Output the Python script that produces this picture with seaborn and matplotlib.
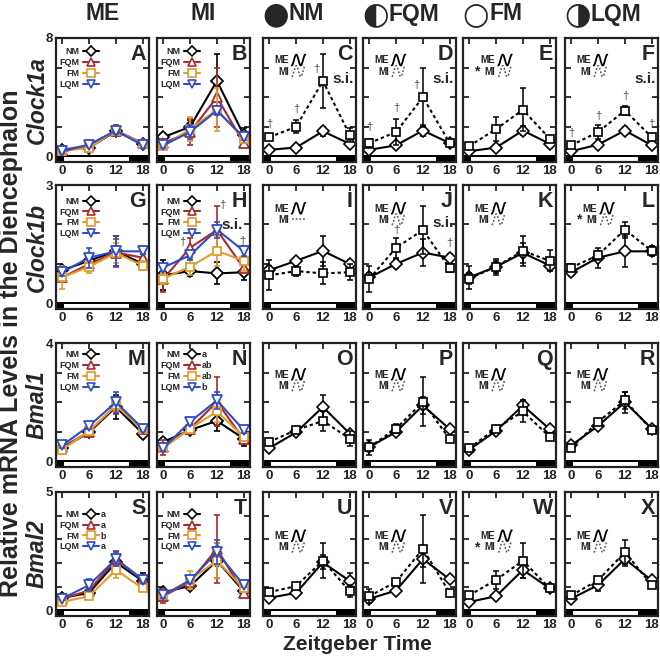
import numpy as np
import pandas as pd
import matplotlib
matplotlib.use('Agg')
import matplotlib.pyplot as plt
import seaborn as sns
from matplotlib.lines import Line2D
from matplotlib.legend_handler import HandlerLine2D

# sampling times (ZT, h) and light phase
zt = [0, 6, 12, 18]
light_phase = (0, 15)

groups = ['NM', 'FQM', 'FM', 'LQM']
tissues = ['ME', 'MI']
genes = ['Clock1a', 'Clock1b', 'Bmal1', 'Bmal2']
gene_ymax = [8, 3, 4, 5]
gene_ystep = [2, 1, 1, 1]
panel_letters = ['ABCDEF', 'GHIJKL', 'MNOPQR', 'STUVWX']

colors = {'NM': 'black', 'FQM': '#a82a2a', 'FM': '#e39b2b', 'LQM': '#2f4cc8'}
markers = {'NM': 'D', 'FQM': '^', 'FM': 's', 'LQM': 'v'}
title_symbols = {'NM': '\u25cf', 'FQM': '\u25d0', 'FM': '\u25cb', 'LQM': '\u25d1'}

# ---- Clock1a (mean, SEM)
c1a_me = {'NM': [0.45, 0.6, 1.7, 0.85], 'FQM': [0.45, 0.75, 1.75, 0.9],
          'FM': [0.35, 0.6, 1.75, 0.85], 'LQM': [0.35, 0.8, 1.75, 0.75]}
c1a_me_sem = {'NM': [0.12, 0.12, 0.3, 0.2], 'FQM': [0.15, 0.15, 0.35, 0.15],
              'FM': [0.15, 0.12, 0.3, 0.25], 'LQM': [0.12, 0.15, 0.25, 0.2]}
c1a_mi = {'NM': [1.3, 2.0, 5.1, 1.45], 'FQM': [0.9, 1.65, 4.0, 0.9],
          'FM': [0.7, 1.85, 3.15, 1.2], 'LQM': [0.75, 1.65, 3.1, 1.3]}
c1a_mi_sem = {'NM': [0.15, 0.45, 1.8, 0.45], 'FQM': [0.3, 0.9, 2.0, 0.15],
              'FM': [0.15, 0.8, 1.45, 0.2], 'LQM': [0.2, 0.45, 0.3, 0.2]}

# ---- Clock1b
c1b_me = {'NM': [0.84, 1.08, 1.33, 1.0], 'FQM': [0.66, 1.0, 1.29, 1.16],
          'FM': [0.66, 0.93, 1.28, 0.96], 'LQM': [0.79, 1.16, 1.32, 1.32]}
c1b_me_sem = {'NM': [0.12, 0.08, 0.38, 0.1], 'FQM': [0.1, 0.1, 0.35, 0.1],
              'FM': [0.3, 0.15, 0.25, 0.12], 'LQM': [0.1, 0.25, 0.4, 0.08]}
c1b_mi = {'NM': [0.71, 0.82, 0.76, 0.79], 'FQM': [0.62, 1.41, 1.86, 0.89],
          'FM': [0.63, 0.93, 1.33, 1.08], 'LQM': [0.91, 1.22, 1.87, 1.33]}
c1b_mi_sem = {'NM': [0.38, 0.12, 0.28, 0.2], 'FQM': [0.32, 0.25, 0.6, 0.1],
              'FM': [0.15, 0.2, 0.38, 0.27], 'LQM': [0.1, 0.12, 0.2, 0.12]}

# ---- Bmal1
b1_me = {'NM': [0.45, 0.98, 1.84, 0.94], 'FQM': [0.48, 1.0, 1.89, 1.09],
         'FM': [0.4, 1.03, 1.89, 1.09], 'LQM': [0.54, 1.2, 2.0, 1.11]}
b1_me_sem = {'NM': [0.1, 0.08, 0.4, 0.1], 'FQM': [0.1, 0.1, 0.3, 0.08],
             'FM': [0.08, 0.1, 0.18, 0.08], 'LQM': [0.08, 0.12, 0.35, 0.08]}
b1_mi = {'NM': [0.66, 1.06, 1.37, 0.77], 'FQM': [0.48, 1.11, 2.01, 0.75],
         'FM': [0.45, 1.11, 1.69, 0.83], 'LQM': [0.45, 1.34, 2.06, 1.06]}
b1_mi_sem = {'NM': [0.1, 0.1, 0.35, 0.25], 'FQM': [0.25, 0.15, 0.83, 0.1],
             'FM': [0.1, 0.08, 0.35, 0.12], 'LQM': [0.1, 0.1, 0.3, 0.1]}

# ---- Bmal2
b2_me = {'NM': [0.53, 0.74, 2.03, 1.24], 'FQM': [0.49, 0.84, 2.17, 1.31],
         'FM': [0.36, 0.6, 1.71, 0.93], 'LQM': [0.5, 1.07, 2.17, 1.27]}
b2_me_sem = {'NM': [0.08, 0.08, 0.3, 0.32], 'FQM': [0.15, 0.1, 0.35, 0.1],
             'FM': [0.08, 0.1, 0.32, 0.08], 'LQM': [0.08, 0.25, 0.3, 0.1]}
b2_mi = {'NM': [0.77, 1.03, 2.1, 0.81], 'FQM': [0.6, 1.21, 2.6, 0.74],
         'FM': [0.64, 1.29, 2.1, 0.93], 'LQM': [0.64, 1.27, 2.46, 1.07]}
b2_mi_sem = {'NM': [0.1, 0.1, 0.75, 0.25], 'FQM': [0.3, 0.12, 1.43, 0.1],
             'FM': [0.1, 0.38, 0.75, 0.08], 'LQM': [0.1, 0.1, 0.5, 0.1]}

means = {('Clock1a', 'ME'): c1a_me, ('Clock1a', 'MI'): c1a_mi,
         ('Clock1b', 'ME'): c1b_me, ('Clock1b', 'MI'): c1b_mi,
         ('Bmal1', 'ME'): b1_me, ('Bmal1', 'MI'): b1_mi,
         ('Bmal2', 'ME'): b2_me, ('Bmal2', 'MI'): b2_mi}
sems = {('Clock1a', 'ME'): c1a_me_sem, ('Clock1a', 'MI'): c1a_mi_sem,
        ('Clock1b', 'ME'): c1b_me_sem, ('Clock1b', 'MI'): c1b_mi_sem,
        ('Bmal1', 'ME'): b1_me_sem, ('Bmal1', 'MI'): b1_mi_sem,
        ('Bmal2', 'ME'): b2_me_sem, ('Bmal2', 'MI'): b2_mi_sem}

# significance marks
daggers = {'C': [(0, 2.2), (6, 3.2), (10.5, 5.9)],
           'D': [(0, 2.0), (6, 3.3), (10.6, 4.85)],
           'F': [(0, 1.6), (6, 2.7), (12, 4.05), (18, 2.2)],
           'H': [(4.3, 1.56), (13.2, 2.5), (17.6, 1.58)],
           'J': [(6, 1.87), (18, 1.53)]}
si_panels = {'C': (0.975, 0.67), 'D': (0.975, 0.67), 'F': (0.975, 0.67),
             'H': (0.92, 0.68), 'J': (0.975, 0.69)}
star_panels = ['E', 'L', 'W']
group_letters = {'N': ['a', 'ab', 'ab', 'b'], 'S': ['a', 'a', 'b', 'a']}
flat_mi_panels = ['I']

rows = []
for (gene, tissue), d in means.items():
    for g in groups:
        for t, m, s in zip(zt, d[g], sems[(gene, tissue)][g]):
            rows.append([gene, tissue, g, t, m, s])
df = pd.DataFrame(rows, columns=['gene', 'tissue', 'group', 'zt', 'mean', 'sem'])


class HandlerWave(HandlerLine2D):
    def create_artists(self, legend, orig_handle, xdescent, ydescent,
                       width, height, fontsize, trans):
        t = np.linspace(0, 3 * np.pi, 40)
        x = t / (3 * np.pi) * width - xdescent
        y = (0.5 - 0.5 * np.cos(t)) * height * 1.3 - ydescent - 0.15 * height
        line = Line2D(x, y)
        self.update_prop(line, orig_handle, legend)
        line.set_transform(trans)
        return [line]


sns.set_style('ticks')
plt.rcParams['font.family'] = ['Liberation Sans', 'DejaVu Sans']
plt.rcParams['font.weight'] = 'bold'
plt.rcParams['axes.labelweight'] = 'bold'

W, H = 660, 658
fig = plt.figure(figsize=(6.6, 6.58), dpi=100)

col_left = [56, 157, 263, 363, 463, 565]
row_top = [38, 185, 343, 492]
ax_w, ax_h = 93, 124
mi_dots = (0, (1.6, 1.4))
legend_top = [0.925, 0.905, 0.94, 0.855]
memi_top = [0.86, 0.85, 0.785, 0.685]
pending = []  # texts placed next to legend rows after a first draw

for r, gene in enumerate(genes):
    ymax = gene_ymax[r]
    ybot = -0.047 * ymax
    for c in range(6):
        letter = panel_letters[r][c]
        ax = fig.add_axes([col_left[c] / W, 1 - (row_top[r] + ax_h) / H, ax_w / W, ax_h / H])
        sub_gene = df[df['gene'] == gene]

        if c < 2:
            tissue = tissues[c]
            for g in groups:
                sub = sub_gene[(sub_gene['tissue'] == tissue) & (sub_gene['group'] == g)]
                ax.errorbar(sub['zt'], sub['mean'], yerr=sub['sem'], fmt='none',
                            ecolor=colors[g], elinewidth=1.2, capsize=2.5, capthick=1.2)
                sns.lineplot(data=sub, x='zt', y='mean', ax=ax, color=colors[g],
                             marker=markers[g], markersize=6.5 if g != 'FM' else 6,
                             markerfacecolor='white', markeredgecolor=colors[g],
                             markeredgewidth=1.3, linewidth=1.5, errorbar=None)
            handles = [Line2D([], [], color=colors[g], marker=markers[g], ms=5.5,
                              mfc='white', mec=colors[g], mew=1.2, lw=1.5) for g in groups]
            leg = ax.legend(handles, groups, loc='upper right', bbox_to_anchor=(0.46, legend_top[r]),
                            markerfirst=False, frameon=False, fontsize=6.5, handlelength=1.8,
                            handletextpad=0.3, labelspacing=0.2, borderpad=0, borderaxespad=0,
                            numpoints=1)
            if letter in group_letters:
                for i, lab in enumerate(group_letters[letter]):
                    pending.append((ax, leg, i, lab, 'right'))
        else:
            g = groups[c - 2]
            for tissue, ls, mk in [('ME', '-', 'D'), ('MI', mi_dots, 's')]:
                sub = sub_gene[(sub_gene['tissue'] == tissue) & (sub_gene['group'] == g)]
                ax.errorbar(sub['zt'], sub['mean'], yerr=sub['sem'], fmt='none',
                            ecolor='black', elinewidth=1.1, capsize=2.5, capthick=1.1)
                sns.lineplot(data=sub, x='zt', y='mean', ax=ax, color='black',
                             marker=mk, markersize=6.5 if mk == 'D' else 6, linestyle=ls,
                             markerfacecolor='white', markeredgecolor='black',
                             markeredgewidth=1.2, linewidth=1.5, errorbar=None)
            h_me = Line2D([], [], color='black', lw=1.3)
            h_mi = Line2D([], [], color='#555555', lw=1.1, linestyle=(0, (1.2, 1.2)))
            hmap = {h_me: HandlerWave()}
            if letter not in flat_mi_panels:
                hmap[h_mi] = HandlerWave()
            lx = 0.19 if letter in star_panels else 0.12
            leg = ax.legend([h_me, h_mi], ['ME', 'MI'], handler_map=hmap, loc='upper left',
                            bbox_to_anchor=(lx, memi_top[r]), markerfirst=False, frameon=False,
                            fontsize=7, handlelength=1.4, handleheight=0.95, handletextpad=0.3,
                            labelspacing=0.12, borderpad=0, borderaxespad=0)
            if letter in star_panels:
                pending.append((ax, leg, 1, '*', 'left'))

        # light / dark bar
        ax.set_xlim(-1.4, 19.4)
        ax.set_ylim(ybot, ymax)
        ax.axvspan(-1.4, 19.4, ymin=0, ymax=0.058, color='black', lw=0, zorder=1.5)
        ax.axvspan(light_phase[0] + 0.3, light_phase[1], ymin=0.008, ymax=0.04,
                   color='white', lw=0, zorder=1.6)

        ax.set_xticks(zt)
        ax.set_xticklabels([str(t) for t in zt])
        yt = list(range(0, ymax + 1, gene_ystep[r]))
        ax.set_yticks(yt)
        if c == 0:
            ax.set_yticklabels(['0'] + [''] * (len(yt) - 2) + [str(ymax)])
        else:
            ax.set_yticklabels([])
        ax.tick_params(direction='in', top=True, right=True, length=4, width=1.3,
                       labelsize=9.5, pad=2, colors='#222222')
        ax.set_xlabel('')
        ax.set_ylabel('')
        for sp in ax.spines.values():
            sp.set_linewidth(1.6)
            sp.set_color('#222222')

        ax.text(0.965, 0.955, letter, transform=ax.transAxes, ha='right', va='top',
                fontsize=15.5, fontweight='bold')
        if letter in si_panels:
            sx, sy = si_panels[letter]
            ax.text(sx, sy, 's.i.', transform=ax.transAxes, ha='right',
                    va='center', fontsize=11, fontweight='bold')
        for (dx, dy) in daggers.get(letter, []):
            ax.text(dx, dy, '\u2020', ha='center', va='center', fontsize=8,
                    color='#444444', fontweight='normal')

# column titles
for c in range(6):
    cx = (col_left[c] + ax_w / 2) / W
    if c < 2:
        fig.text(cx, 1 - 14 / H, tissues[c], ha='center', va='center', fontsize=16.5)
    else:
        g = groups[c - 2]
        fig.text((col_left[c] + 13) / W, 1 - 15 / H, title_symbols[g], ha='center', va='center',
                 fontsize=22, family='DejaVu Sans')
        fig.text((col_left[c] + 26) / W, 1 - 14 / H, g, ha='left', va='center', fontsize=16.5)

for r, gene in enumerate(genes):
    fig.text(37 / W, 1 - (row_top[r] + ax_h / 2) / H, gene, rotation=90, ha='center',
             va='center', fontsize=16.5, style='italic')

fig.text(11 / W, 1 - 343 / H, 'Relative mRNA Levels in the Diencephalon', rotation=90,
         ha='center', va='center', fontsize=18)
fig.text(357 / W, 1 - 645 / H, 'Zeitgeber Time', ha='center', va='center', fontsize=15)

# group letters and asterisks beside the legends
fig.canvas.draw()
renderer = fig.canvas.get_renderer()
for ax, leg, i, lab, side in pending:
    lb = leg.get_window_extent(renderer)
    tb = leg.get_texts()[i].get_window_extent(renderer)
    inv = ax.transAxes.inverted()
    yc = (tb.y0 + tb.y1) / 2
    if side == 'right':
        x, y = inv.transform((lb.x1 + 2, yc))
        ax.text(x, y, lab, transform=ax.transAxes, ha='left', va='center', fontsize=6.5)
    else:
        x, y = inv.transform((lb.x0 - 1, yc))
        ax.text(x, y, lab, transform=ax.transAxes, ha='right', va='center', fontsize=10)

fig.savefig('out.png', dpi=100)
